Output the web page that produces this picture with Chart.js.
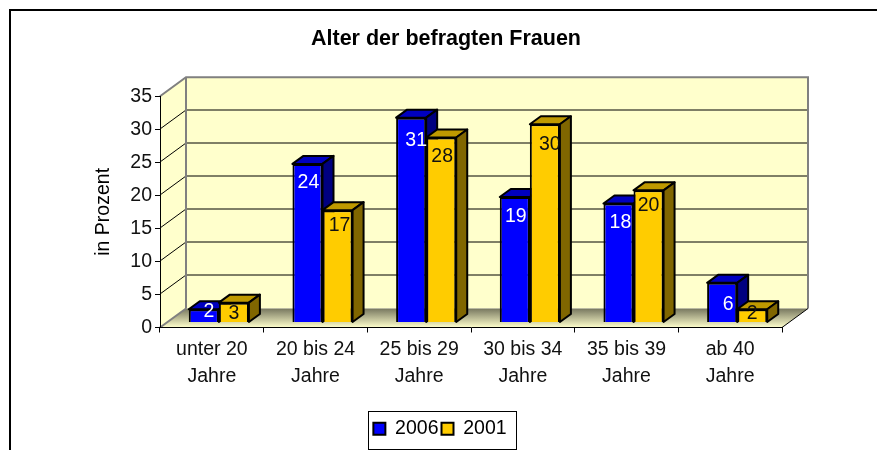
<!DOCTYPE html>
<html><head><meta charset="utf-8">
<style>html,body{margin:0;padding:0;background:#fff}#w{position:relative;width:877px;height:450px}</style>
<script src="https://cdn.jsdelivr.net/npm/chart.js@4"></script>
</head><body><div id="w"><canvas id="c" width="877" height="450"></canvas></div>
<script>
const categories = [['unter 20','Jahre'],['20 bis 24','Jahre'],['25 bis 29','Jahre'],['30 bis 34','Jahre'],['35 bis 39','Jahre'],['ab 40','Jahre']];
const series2006 = [2,24,31,19,18,6];
const series2001 = [3,17,28,30,20,2];
const yTicks = [0,5,10,15,20,25,30,35];
const titleText = 'Alter der befragten Frauen';
const yTitle = 'in Prozent';

const FONT = '"Liberation Sans", Arial, sans-serif';
const FS = 19.5;
const WALL = {dx:26, dy:-19}, BAR_OFF = {dx:7, dy:-5}, BAR_D = {dx:11, dy:-8};
const LEGEND_BOX = {l:368, r:516, t:411, b:449};
const labelDrop = [[2,19,23,20,19,22],[11,15,19,20,15,4]];
const labelShift = [[5,1,5,1,2,6],[0,2,1,5,0,0]];
const faces = [{front:'#0000FF',top:'#0000C0',side:'#000080',text:'#fff'},{front:'#FFCC00',top:'#BF9900',side:'#806600',text:'#111'}];

function poly(ctx,pts,fill,stroke,w){
  ctx.beginPath();pts.forEach((p,i)=>i?ctx.lineTo(p[0],p[1]):ctx.moveTo(p[0],p[1]));ctx.closePath();
  if(fill){ctx.fillStyle=fill;ctx.fill();}
  if(stroke){ctx.strokeStyle=stroke;ctx.lineWidth=w||1;ctx.stroke();}
}
const threeD = {
  id:'threeD',
  beforeDraw(chart){
    const lg=chart.legend,tb=chart.titleBlock;
    lg.left=LEGEND_BOX.l-2;lg.right=LEGEND_BOX.r-2;lg.top=LEGEND_BOX.t+5;lg.bottom=LEGEND_BOX.b;
    tb.left=146;tb.right=746;
    const c=chart.ctx,{left:l,right:r,top:t,bottom:b}=chart.chartArea,y=chart.scales.y,d=WALL;
    c.save();
    c.strokeStyle='#000';c.lineWidth=2;c.beginPath();c.moveTo(10,450);c.lineTo(10,10);c.lineTo(877,10);c.stroke();
    poly(c,[[l+d.dx,t+d.dy],[r+d.dx,t+d.dy],[r+d.dx,b+d.dy],[l+d.dx,b+d.dy]],'#FFFFCC');
    poly(c,[[l,t],[l+d.dx,t+d.dy],[l+d.dx,b+d.dy],[l,b]],'#FFFFCC');
    const g=c.createLinearGradient(0,b+d.dy,0,b);g.addColorStop(0,'#77775F');g.addColorStop(1,'#FFFFCC');
    poly(c,[[l,b],[l+d.dx,b+d.dy],[r+d.dx,b+d.dy],[r,b]],g);
    c.strokeStyle='#000';c.lineWidth=1;
    yTicks.slice(1,-1).forEach(v=>{const p=Math.round(y.getPixelForValue(v));
      c.beginPath();c.moveTo(l,p);c.lineTo(l+d.dx,p+d.dy);c.lineTo(r+d.dx,p+d.dy);c.stroke();});
    c.strokeStyle='#808080';c.lineWidth=2;
    c.beginPath();c.moveTo(l,t);c.lineTo(l+d.dx,t+d.dy);c.lineTo(r+d.dx,t+d.dy);c.lineTo(r+d.dx,b+d.dy);c.stroke();
    c.beginPath();c.moveTo(l+d.dx,t+d.dy);c.lineTo(l+d.dx,b+d.dy);c.moveTo(l,b);c.lineTo(l+d.dx,b+d.dy);c.stroke();
    c.strokeStyle='#000';c.lineWidth=1;c.beginPath();c.moveTo(r,b);c.lineTo(r+d.dx,b+d.dy);c.stroke();
    c.restore();
  },
  beforeDatasetDraw(){return false;},
  afterDatasetsDraw(chart){
    const c=chart.ctx;
    const o=BAR_OFF,e=BAR_D;
    [0,1].forEach(i=>{
      const meta=chart.getDatasetMeta(i),f=faces[i];
      c.save();c.translate(o.dx,o.dy);
      meta.data.forEach(el=>{
        const p=el.getProps(['x','y','base','width'],true),L=p.x-p.width/2,R=p.x+p.width/2,T=p.y,B=p.base;
        c.lineJoin='round';
        poly(c,[[L,T],[L+e.dx,T+e.dy],[R+e.dx,T+e.dy],[R,T]],f.top,'#000',2);
        poly(c,[[R,T],[R+e.dx,T+e.dy],[R+e.dx,B+e.dy],[R,B]],f.side,'#000',2);
      });
      meta.controller.draw();
      c.restore();
    });
    [0,1].forEach(i=>{
      const meta=chart.getDatasetMeta(i),f=faces[i];
      const vals=chart.data.datasets[i].data;
      c.save();c.font=FS+'px '+FONT;c.textAlign='center';c.textBaseline='middle';c.fillStyle=f.text;
      meta.data.forEach((el,k)=>{
        const p=el.getProps(['x','y'],true);
        c.fillText(String(vals[k]),p.x+o.dx+labelShift[i][k],p.y+o.dy+labelDrop[i][k]);
      });
      c.restore();
    });
  },
  afterDraw(chart){
    const c=chart.ctx,B=LEGEND_BOX;
    c.save();c.strokeStyle='#000';c.lineWidth=1;
    c.strokeRect(B.l+.5,B.t+.5,B.r-B.l,B.b-B.t);
    c.restore();
  }
};

new Chart(document.getElementById('c'),{
  type:'bar',
  data:{labels:categories,datasets:[
    {label:'2006',data:series2006,backgroundColor:faces[0].front,borderColor:'#000',borderWidth:2,categoryPercentage:0.58,barPercentage:1},
    {label:'2001',data:series2001,backgroundColor:faces[1].front,borderColor:'#000',borderWidth:2,categoryPercentage:0.58,barPercentage:1}
  ]},
  plugins:[threeD],
  options:{
    responsive:false,animation:false,
    layout:{padding:{left:92,right:95,top:26,bottom:0}},
    plugins:{
      title:{display:true,text:titleText,color:'#000',font:{family:FONT,size:21.5,weight:'bold'},padding:{top:0,bottom:44.4}},
      tooltip:{enabled:false},
      legend:{position:'bottom',labels:{color:'#000',boxWidth:12,boxHeight:12,padding:3,font:{family:FONT,size:FS}}}
    },
    scales:{
      x:{afterFit(s){s.height=90;},border:{color:'#000',width:1},grid:{display:true,drawOnChartArea:false,drawTicks:true,tickLength:5,color:'#000'},
         ticks:{color:'#111',maxRotation:0,autoSkip:false,padding:4,font:{family:FONT,size:FS,lineHeight:1.385}}},
      y:{min:0,max:35,afterBuildTicks(s){s.ticks=yTicks.map(v=>({value:v}));},afterFit(s){s.width=68;},
         border:{color:'#000',width:1},grid:{display:true,drawOnChartArea:false,drawTicks:true,tickLength:5,color:'#000'},
         title:{display:true,text:yTitle,color:'#000',font:{family:FONT,size:19.5},padding:{top:0,bottom:0}},
         ticks:{color:'#111',padding:3,font:{family:FONT,size:FS}}}
    }
  }
});
</script></body></html>
